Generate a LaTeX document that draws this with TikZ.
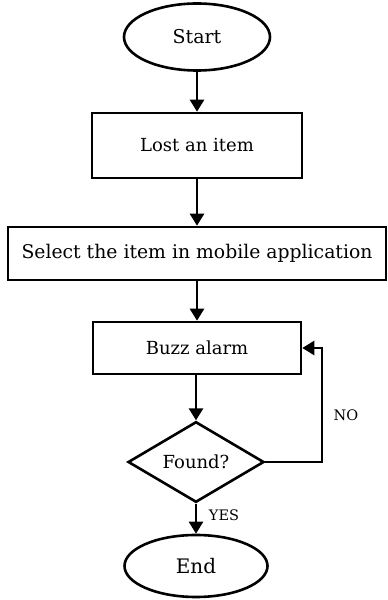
\documentclass[tikz,border=0pt]{standalone}
\usepackage{fontspec}
\setmainfont{DejaVu Serif}
\usetikzlibrary{shapes.geometric,arrows.meta}

\begin{document}
\begin{tikzpicture}[x=1pt,y=1pt,
  line width=2.6pt,
  base/.style={draw=black, inner sep=0pt, font=\fontsize{18}{21}\selectfont},
  term/.style={base, ellipse},
  procbox/.style={base, rectangle},
  decide/.style={base, diamond},
  flow/.style={-{Triangle[length=12pt,width=14pt]}},
  lbl/.style={inner sep=0pt, font=\fontsize{14.5}{17}\selectfont}]
\useasboundingbox (0,0) rectangle (388,600);

% terminals, steps and the decision
\node[term, minimum width=146, minimum height=67, font=\fontsize{19}{22}\selectfont] (start) at (197,563) {Start};
\node[procbox, minimum width=210, minimum height=65] (lost) at (197,454.5) {Lost an item};
\node[procbox, minimum width=378, minimum height=53, font=\fontsize{18.8}{22}\selectfont] (select) at (197,346.5) {Select the item in mobile application};
\node[procbox, minimum width=208, minimum height=52] (buzz) at (197,252) {Buzz alarm};
\node[decide, minimum width=136, minimum height=78] (found) at (196,138) {Found?};
\node[term, minimum width=143, minimum height=62, font=\fontsize{20}{23}\selectfont] (end) at (196,34) {End};

% main flow
\draw[flow] (start) -- (lost);
\draw[flow] (lost) -- (select);
\draw[flow] (select) -- (buzz);
\draw[flow] (buzz.south -| found.north) -- (found);
\draw[flow] (found) -- (end);

% retry loop
\coordinate (loopc) at (322,138);
\draw[flow] (found.east) -- (loopc) |- (buzz.east);

% branch labels
\node[lbl] (no) at (346,185) {NO};
\node[lbl] (yes) at (224,85) {YES};
\end{tikzpicture}
\end{document}
